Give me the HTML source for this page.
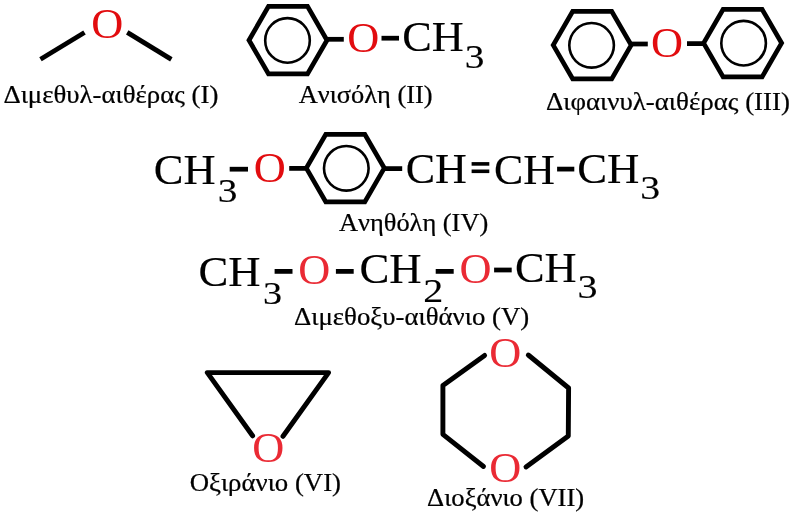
<!DOCTYPE html>
<html><head><meta charset="utf-8"><style>
html,body{margin:0;padding:0;background:#fff;}
svg{display:block;will-change:transform;}
text{font-family:"Liberation Serif",serif;font-size:100px;font-kerning:none;}
line,polyline{stroke:#000;stroke-width:4.75;fill:none;}
.eq{stroke-width:3.6;}
.rj{stroke-linejoin:round;stroke-linecap:round;stroke-width:4.9;}
.ring{stroke:#000;stroke-width:4.7;fill:none;stroke-linejoin:miter;}
.arom{stroke:#000;stroke-width:2.6;fill:none;}
</style></head><body>
<svg width="792" height="512" viewBox="0 0 792 512">
<line x1="40.5" y1="59.2" x2="84.5" y2="32.55"/>
<line x1="127.25" y1="32.4" x2="171.35" y2="59.35"/>
<text transform="matrix(0.443655 0 0 0.424186 91.33 37.79)" fill="rgb(226,12,15)">O</text>
<text transform="matrix(0.268267 0 0 0.250000 3.40 102.50)" stroke="#000" stroke-width="0.965">Διμεθυλ-αιθέρας (I)</text>
<polygon points="249.00,40.20 268.50,6.43 307.50,6.43 327.00,40.20 307.50,73.97 268.50,73.97" class="ring"/><circle cx="287.50" cy="40.40" r="22.3" class="arom"/>
<line x1="327" y1="39.3" x2="343.8" y2="39.3"/>
<text transform="matrix(0.443655 0 0 0.424186 347.18 51.94)" fill="rgb(226,12,15)">O</text>
<line x1="381.5" y1="38.2" x2="399" y2="38.2"/>
<text transform="matrix(0.443190 0 0 0.411535 402.16 51.32)" fill="#000" stroke="#000" stroke-width="0.35">CH</text>
<text transform="matrix(0.393381 0 0 0.329674 464.79 67.50)" fill="#000" stroke="#000" stroke-width="0.41">3</text>
<text transform="matrix(0.264120 0 0 0.250000 298.67 102.50)" stroke="#000" stroke-width="0.973">Ανισόλη (II)</text>
<polygon points="553.20,45.10 572.70,11.33 611.70,11.33 631.20,45.10 611.70,78.87 572.70,78.87" class="ring"/><circle cx="591.60" cy="45.35" r="22.3" class="arom"/>
<line x1="631.2" y1="44" x2="647.8" y2="44"/>
<text transform="matrix(0.443655 0 0 0.424186 650.88 56.84)" fill="rgb(226,12,15)">O</text>
<line x1="687" y1="43.6" x2="703.6" y2="43.6"/>
<polygon points="703.60,43.10 723.10,9.33 762.10,9.33 781.60,43.10 762.10,76.87 723.10,76.87" class="ring"/><circle cx="743.60" cy="43.15" r="22.3" class="arom"/>
<text transform="matrix(0.268874 0 0 0.250000 546.00 109.70)" stroke="#000" stroke-width="0.964">Διφαινυλ-αιθέρας (III)</text>
<text transform="matrix(0.445465 0 0 0.426419 153.75 184.01)" fill="#000" stroke="#000" stroke-width="0.34">CH</text>
<text transform="matrix(0.393381 0 0 0.337116 217.79 202.30)" fill="#000" stroke="#000" stroke-width="0.41">3</text>
<line x1="229.7" y1="169.2" x2="248.0" y2="169.2"/>
<text transform="matrix(0.443655 0 0 0.424186 253.63 181.54)" fill="rgb(226,12,15)">O</text>
<line x1="289.2" y1="168.4" x2="306.2" y2="168.4"/>
<polygon points="306.30,168.10 325.80,134.33 364.80,134.33 384.30,168.10 364.80,201.87 325.80,201.87" class="ring"/><circle cx="346.30" cy="168.30" r="22.3" class="arom"/>
<line x1="384.2" y1="168.6" x2="402.2" y2="168.6"/>
<text transform="matrix(0.440915 0 0 0.413023 405.67 183.32)" fill="#000" stroke="#000" stroke-width="0.35">CH</text>
<line class="eq" x1="471.6" y1="163.9" x2="489.3" y2="163.9"/>
<line class="eq" x1="471.6" y1="171.3" x2="489.3" y2="171.3"/>
<text transform="matrix(0.438641 0 0 0.430884 494.08 183.70)" fill="#000" stroke="#000" stroke-width="0.35">CH</text>
<line x1="557.1" y1="169.1" x2="574.3" y2="169.1"/>
<text transform="matrix(0.447739 0 0 0.414512 577.24 182.72)" fill="#000" stroke="#000" stroke-width="0.35">CH</text>
<text transform="matrix(0.398222 0 0 0.334140 640.17 198.60)" fill="#000" stroke="#000" stroke-width="0.41">3</text>
<text transform="matrix(0.264123 0 0 0.250000 338.97 231.00)" stroke="#000" stroke-width="0.973">Ανηθόλη (IV)</text>
<text transform="matrix(0.446981 0 0 0.420465 198.54 286.21)" fill="#000" stroke="#000" stroke-width="0.35">CH</text>
<text transform="matrix(0.381277 0 0 0.313302 262.95 303.72)" fill="#000" stroke="#000" stroke-width="0.43">3</text>
<line x1="274.6" y1="271.4" x2="292.5" y2="271.4"/>
<text transform="matrix(0.443655 0 0 0.424186 298.18 283.59)" fill="rgb(234,42,52)">O</text>
<line x1="335.9" y1="271.4" x2="353.7" y2="271.4"/>
<text transform="matrix(0.448498 0 0 0.420465 359.44 283.31)" fill="#000" stroke="#000" stroke-width="0.35">CH</text>
<text transform="matrix(0.400370 0 0 0.342088 423.32 301.73)" fill="#000" stroke="#000" stroke-width="0.40">2</text>
<line x1="435.7" y1="271.4" x2="453.7" y2="271.4"/>
<text transform="matrix(0.443655 0 0 0.424186 459.48 282.84)" fill="rgb(234,42,52)">O</text>
<line x1="494.1" y1="270.0" x2="511.7" y2="270.0"/>
<text transform="matrix(0.443948 0 0 0.420465 514.95 282.41)" fill="#000" stroke="#000" stroke-width="0.35">CH</text>
<text transform="matrix(0.400643 0 0 0.331163 577.56 298.00)" fill="#000" stroke="#000" stroke-width="0.41">3</text>
<text transform="matrix(0.268163 0 0 0.250000 294.00 324.60)" stroke="#000" stroke-width="0.965">Διμεθοξυ-αιθάνιο (V)</text>
<polyline class="rj" points="252.6,435.8 207.3,372.6 328.6,372.6 283.0,436.3"/>
<text transform="matrix(0.443655 0 0 0.424186 252.28 462.04)" fill="rgb(234,42,52)">O</text>
<text transform="matrix(0.267900 0 0 0.250000 189.63 490.50)" stroke="#000" stroke-width="0.965">Οξιράνιο (VI)</text>
<polyline class="rj" points="484.6,355.4 442.9,385.5 442.9,434.3 483.5,466.5"/>
<polyline class="rj" points="528.3,355 568.6,388 568.3,436 526,467"/>
<text transform="matrix(0.443655 0 0 0.424186 489.23 366.59)" fill="rgb(234,42,52)">O</text>
<text transform="matrix(0.443655 0 0 0.424186 489.28 481.94)" fill="rgb(234,42,52)">O</text>
<text transform="matrix(0.266000 0 0 0.250000 427.11 506.10)" stroke="#000" stroke-width="0.969">Διοξάνιο (VII)</text>
</svg>
</body></html>
